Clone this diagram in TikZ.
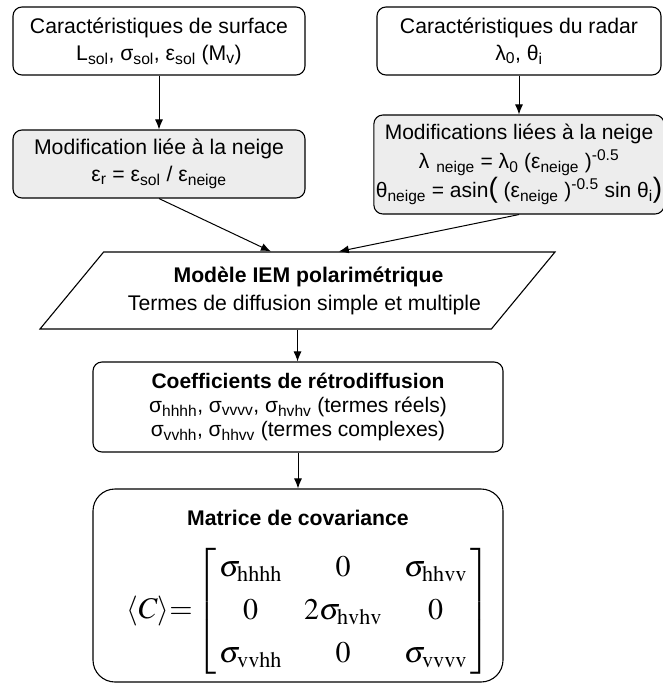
\documentclass[tikz,border=0pt]{standalone}
\usepackage{amsmath}
\usepackage{mathptmx}
\usepackage[no-math]{fontspec}
\setmainfont{Liberation Sans}
\usetikzlibrary{shapes.geometric,arrows.meta,calc}

\newcommand{\low}[1]{\textsubscript{#1}}
\newcommand{\high}[1]{\textsuperscript{#1}}
\newcommand{\bigpar}[1]{{\fontsize{28}{28}\selectfont#1}}

\tikzset{
  box/.style={draw, line width=1.1pt, rounded corners=9pt, align=center, inner sep=2pt,
    font=\fontsize{21.2}{27}\selectfont},
  snowbox/.style={box, fill=black!7},
  flow/.style={-{Latex[length=10pt,width=8pt]}, line width=1pt},
}

\begin{document}
\begin{tikzpicture}[x=1pt,y=-1pt]
  \useasboundingbox (0,0) rectangle (662,683);
  % entrees
  \node[box, minimum width=292pt, minimum height=68pt] (surf) at (159,41)
    {Caractéristiques de surface\\ L\low{sol}, σ\low{sol}, ε\low{sol} (M\low{v})};
  \node[box, minimum width=284pt, minimum height=68pt] (radar) at (519,41)
    {Caractéristiques du radar\\ λ\low{0}, θ\low{i}};
  % effet de la neige
  \node[snowbox, minimum width=292pt, minimum height=68pt] (modsol) at (159,164)
    {Modification liée à la neige\\ ε\low{r} = ε\low{sol} / ε\low{neige}};
  \node[snowbox, minimum width=284pt, minimum height=99pt, font=\fontsize{21}{29}\selectfont] (modradar) at (519,164.5)
    {Modifications liées à la neige\\
     λ\,\,\low{neige} = λ\low{0} (ε\low{neige} )\high{-0.5}\\
     θ\low{neige} = asin\bigpar{(} (ε\low{neige} )\high{-0.5} sin θ\low{i}\bigpar{)}};
  % modele
  \node[draw, line width=1.1pt, shape=trapezium, trapezium left angle=37, trapezium right angle=143,
    trapezium stretches body, minimum width=515pt, minimum height=77pt, inner sep=0pt, align=center,
    font=\fontsize{21.2}{28}\selectfont] (iem) at (297.5,290.5)
    {\hspace*{22pt}\textbf{Modèle IEM polarimétrique}\\ \hspace*{14pt}Termes de diffusion simple et multiple};
  \node[box, minimum width=410pt, minimum height=90pt, font=\fontsize{21}{24}\selectfont] (coef) at (298,407)
    {\textbf{Coefficients de rétrodiffusion}\\
     σ\low{hhhh}, σ\low{vvvv}, σ\low{hvhv} (termes réels)\\
     σ\low{vvhh}, σ\low{hhvv} (termes complexes)};
  \node[box, rounded corners=22pt, minimum width=410pt, minimum height=193pt] (cov) at (298,585.5)
    {\rule{0pt}{30pt}\textbf{Matrice de covariance}\\[20pt]
     {\fontsize{30}{36}\selectfont\arraycolsep=11pt\renewcommand{\arraystretch}{1.2}%
     \delimiterfactor=800 \delimitershortfall=12pt
     \hspace*{21pt}$\langle C\rangle{=}\left[\begin{array}{@{\hspace{3pt}}ccc@{\hspace{3pt}}}
       \sigma_{\mathrm{hhhh}} & 0 & \sigma_{\mathrm{hhvv}}\\
       0 & 2\sigma_{\mathrm{hvhv}} & 0\\
       \sigma_{\mathrm{vvhh}} & 0 & \sigma_{\mathrm{vvvv}}
     \end{array}\right]$}};
  % liens
  \draw[flow] (surf) -- (modsol);
  \draw[flow] (radar) -- (modradar);
  \draw[flow] (modsol.south) -- ($(iem.top left corner)!0.37!(iem.top right corner)$);
  \draw[flow] (modradar.south) -- ($(iem.top left corner)!0.52!(iem.top right corner)$);
  \draw[flow] (iem.south) -- (iem.south |- coef.north);
  \draw[flow] (coef) -- (cov);
\end{tikzpicture}
\end{document}
